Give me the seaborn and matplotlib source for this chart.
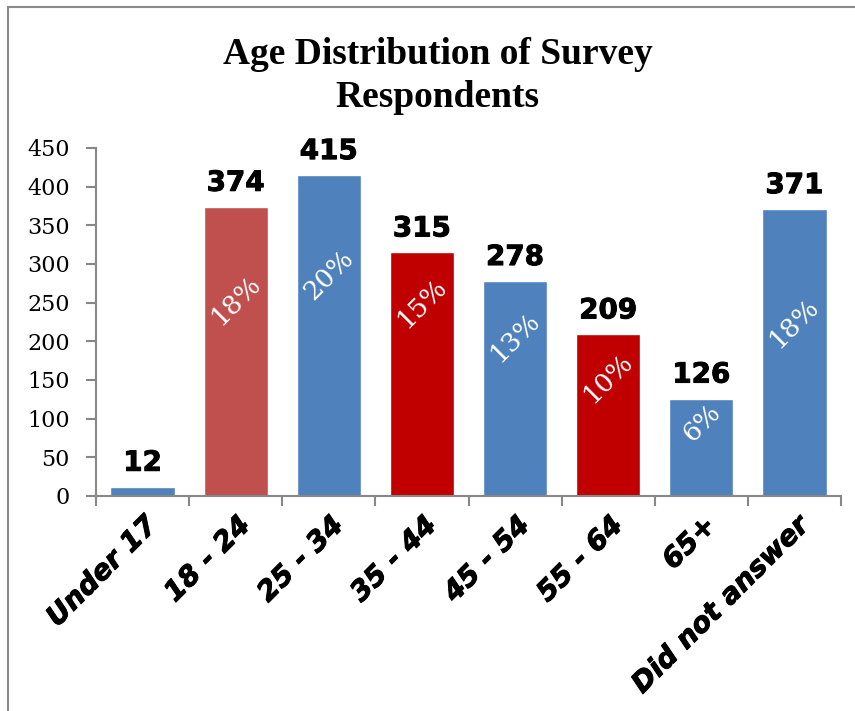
import matplotlib
matplotlib.use("Agg")
import matplotlib.pyplot as plt
import matplotlib.patheffects as pe
import seaborn as sns
import pandas as pd
from matplotlib.patches import Rectangle

# ---- data ----
categories = ["Under 17", "18 - 24", "25 - 34", "35 - 44", "45 - 54", "55 - 64", "65+", "Did not answer"]
counts = [12, 374, 415, 315, 278, 209, 126, 371]
percent_labels = ["", "18%", "20%", "15%", "13%", "10%", "6%", "18%"]
bar_colors = ["#4F81BD", "#C0504D", "#4F81BD", "#C00000", "#4F81BD", "#C00000", "#4F81BD", "#4F81BD"]
y_ticks = [0, 50, 100, 150, 200, 250, 300, 350, 400, 450]
title = "Age Distribution of Survey\nRespondents"

# layout: vertical centre of the rotated percent labels (data units)
pct_label_y = [0, 253, 286, 250, 206, 153, 94, 224]

sns.set_style("white")
plt.rcParams["text.color"] = "black"
plt.rcParams["xtick.color"] = "black"
plt.rcParams["ytick.color"] = "black"
W, H = 855, 711
fig = plt.figure(figsize=(W / 100, H / 100), dpi=100)
ax = fig.add_axes([96 / W, 1 - 496 / H, (841 - 96) / W, (496 - 148) / H])

df = pd.DataFrame({"cat": categories, "n": counts})
sns.barplot(data=df, x="cat", y="n", hue="cat", palette=bar_colors, legend=False,
            width=0.69, saturation=1, ax=ax, order=categories, hue_order=categories)

ax.set_xlim(-0.5, len(categories) - 0.5)
ax.set_ylim(0, 450)
ax.set_xlabel("")
ax.set_ylabel("")

grey = "#878787"
for s in ["top", "right"]:
    ax.spines[s].set_visible(False)
for s in ["left", "bottom"]:
    ax.spines[s].set_color(grey)
    ax.spines[s].set_linewidth(1.5)

ax.set_yticks(y_ticks)
ax.set_yticklabels([str(v) for v in y_ticks], family="DejaVu Serif", fontsize=16, color="black")
ax.tick_params(axis="y", direction="out", length=7, width=1.5, color=grey, pad=12, left=True,
               labelcolor="black")

thick = [pe.withStroke(linewidth=0.7, foreground="black")]

ax.set_xticks(range(len(categories)))
ax.set_xticklabels(categories, rotation=45, ha="right", rotation_mode="anchor",
                   family="DejaVu Sans", fontweight="bold", fontstyle="oblique", fontsize=20,
                   color="black")
for lbl in ax.get_xticklabels():
    lbl.set_path_effects(thick)
ax.tick_params(axis="x", which="major", length=0, pad=11, labelcolor="black")
ax.set_xticks([i - 0.5 for i in range(len(categories) + 1)], minor=True)
ax.tick_params(axis="x", which="minor", direction="out", length=7, width=1.5, color=grey, bottom=True)

for i, (v, p) in enumerate(zip(counts, percent_labels)):
    ax.annotate(str(v), (i, v), xytext=(0, 11.5), textcoords="offset points",
                ha="center", va="baseline", family="DejaVu Sans", fontweight="heavy",
                fontsize=20, color="black", path_effects=thick)
    if p:
        ax.text(i, pct_label_y[i], p, rotation=45, ha="center", va="center",
                rotation_mode="anchor", family="DejaVu Serif", fontsize=19, color="white")

fig.text(0.512, 1 - 76 / H, title, ha="center", va="center", family="Liberation Serif",
         fontweight="bold", fontsize=27, linespacing=1.3, color="black")

fig.patches.append(Rectangle((8 / W, -0.5), 2, 1.5 - 7 / H, transform=fig.transFigure,
                             fill=False, edgecolor="#8a8a8a", linewidth=1.5))

fig.savefig("out.png", dpi=100)
